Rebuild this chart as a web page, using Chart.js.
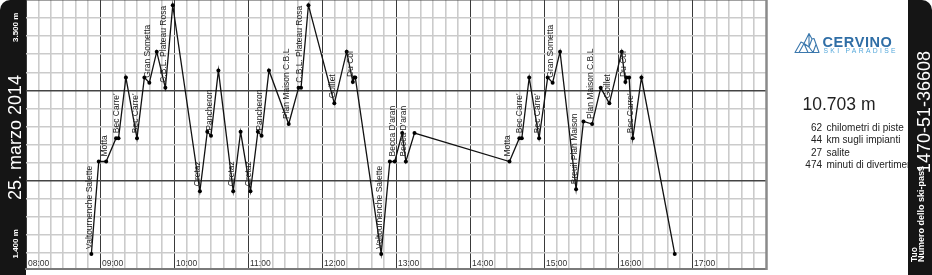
<!DOCTYPE html>
<html><head><meta charset="utf-8">
<script src="https://cdn.jsdelivr.net/npm/chart.js@4/dist/chart.umd.min.js"></script>
<style>html,body{margin:0;padding:0;background:#fff;overflow:hidden}#wrap{position:relative;width:932px;height:275px}</style>
</head><body><div id="wrap"><canvas id="c" width="932" height="275"></canvas></div>
<script>
// ---- data ----
const times = ["08:53","08:59","09:05","09:13","09:15","09:21","09:30","09:36","09:40","09:46","09:53","09:59",
  "10:21","10:27","10:30","10:36","10:48","10:54","11:02","11:08","11:11","11:17","11:33","11:41","11:43","11:49",
  "12:10","12:20","12:25","12:26","12:27","12:48","12:55","12:59","13:05","13:08","13:15",
  "14:32","14:40","14:42","14:48","14:56","15:03","15:07","15:13","15:26","15:32","15:39","15:46","15:53",
  "16:03","16:06","16:07","16:09","16:12","16:19","16:46"];
const elevations = [1535,2250,2250,2430,2430,2900,2430,2900,2860,3100,2820,3460,
  2020,2480,2450,2955,2020,2480,2020,2480,2450,2955,2540,2820,2820,3460,
  2700,3100,2865,2900,2900,1535,2250,2250,2470,2250,2470,
  2250,2430,2430,2900,2430,2900,2860,3100,2035,2560,2540,2820,2700,
  3100,2865,2900,2900,2430,2900,1535];
const liftNames = ["Valtournenche Salette","","Motta","","Bec Carre'","","Bec Carre'","","Gran Sometta","","C.B.L. Plateau Rosa","",
  "Cretaz","","Pancheron","","Cretaz","","Cretaz","","Pancheron","","Plan Maison C.B.L","","C.B.L. Plateau Rosa","",
  "Goillet","","Du Col","","","Valtournenche Salette","","Becca D'aran","","Becca D'aran","",
  "Motta","","Bec Carre'","","Bec Carre'","","Gran Sometta","","Breuil Plan Maison","","Plan Maison C.B.L","","Goillet",
  "","Du Col","","","Bec Carre'","",""];
const hourLabels = ["08:00","09:00","10:00","11:00","12:00","13:00","14:00","15:00","16:00","17:00"];
const dateLabel = "25. marzo 2014";
const elevMaxLabel = "3.500 m";
const elevMinLabel = "1.400 m";
const totalElevation = "10.703 m";
const statValues = ["62","44","27","474"];
const statTexts = ["chilometri di piste","km sugli impianti","salite","minuti di divertimento"];
const passTitle = ["Tuo","Numero dello ski-pass"];
const skipassNumber = "1470-51-36608";
const logoTitle = "CERVINO";
const logoSub = "SKI PARADISE";

const X_MIN = 8*60, X_MAX = 18*60, Y_MAX = 3500, Y_MIN = 1418, Y_STEP = 140;
const toMin = s => { const [h,m] = s.split(":").map(Number); return h*60+m; };
const points = times.map((t,i)=>({x: toMin(t), y: elevations[i]}));
const FONT = "'Liberation Sans', Arial, sans-serif";

const panelPlugin = {
  id:'panels',
  beforeDraw(chart){
    const ctx = chart.ctx;
    ctx.save();
    ctx.fillStyle = '#fff'; ctx.fillRect(0,0,chart.width,chart.height);
    ctx.fillStyle = '#151515';
    ctx.beginPath(); ctx.roundRect(0,0,26,275,[10,0,0,0]); ctx.fill();
    ctx.beginPath(); ctx.roundRect(908,0,24,275,[0,10,0,0]); ctx.fill();
    ctx.restore();
  },
  afterDatasetsDraw(chart){
    const ctx = chart.ctx, xs = chart.scales.x, area = chart.chartArea;
    ctx.save();
    ctx.strokeStyle = '#8a8a8a'; ctx.lineWidth = 2.5;
    ctx.beginPath(); ctx.moveTo(area.right+0.5, 0); ctx.lineTo(area.right+0.5, area.bottom+1); ctx.stroke();
    ctx.fillStyle = '#333'; ctx.font = '8.5px '+FONT; ctx.textBaseline='alphabetic'; ctx.textAlign='left';
    hourLabels.forEach((lab,i)=>{ ctx.fillText(lab, xs.getPixelForValue(toMin(lab))+2, area.bottom-3.5); });
    ctx.fillStyle = '#222'; ctx.font = '8.5px '+FONT;
    const meta = chart.getDatasetMeta(0);
    meta.data.forEach((pt,i)=>{
      const name = liftNames[i]; if(!name) return;
      ctx.save(); ctx.translate(pt.x+0.5, pt.y-5); ctx.rotate(-Math.PI/2); ctx.fillText(name,0,0); ctx.restore();
    });
    ctx.restore();
  },
  afterDraw(chart){
    const ctx = chart.ctx;
    ctx.save();
    const rot = (txt, x, y, font, color, align) => {
      ctx.save(); ctx.translate(x,y); ctx.rotate(-Math.PI/2);
      ctx.font = font; ctx.fillStyle = color; ctx.textAlign = align||'left'; ctx.textBaseline='alphabetic';
      ctx.fillText(txt,0,0); ctx.restore();
    };
    rot(dateLabel, 20.5, 137.5, '18px '+FONT, '#fff', 'center');
    rot(elevMaxLabel, 18, 42, 'bold 8px '+FONT, '#fff');
    rot(elevMinLabel, 18, 258.5, 'bold 8px '+FONT, '#fff');
    rot(passTitle[0], 917, 262, 'bold 8.5px '+FONT, '#fff');
    rot(passTitle[1], 924, 262, 'bold 9px '+FONT, '#fff');
    rot(skipassNumber, 930, 173, '18px '+FONT, '#fff');
    ctx.strokeStyle = '#3b78ad'; ctx.lineWidth = 1.1; ctx.lineJoin='round';
    ctx.beginPath();
    ctx.moveTo(795,52.5); ctx.lineTo(801,42); ctx.lineTo(804,43.5); ctx.lineTo(809,33.5); ctx.lineTo(812,39); ctx.lineTo(814,38.5); ctx.lineTo(819,52.5); ctx.closePath();
    ctx.moveTo(799,52.5); ctx.lineTo(804,43.5); ctx.lineTo(808,52.5);
    ctx.moveTo(804,43.5); ctx.lineTo(809,47); ctx.lineTo(812,39);
    ctx.moveTo(809,47); ctx.lineTo(813,52.5); ctx.lineTo(816,44.5);
    ctx.moveTo(809,33.5); ctx.lineTo(809,47);
    ctx.stroke();
    ctx.fillStyle = '#2f6ea6'; ctx.font = 'bold 14.5px '+FONT; ctx.textAlign='left';
    ctx.letterSpacing = '0.6px';
    ctx.fillText(logoTitle, 822.5, 46.8);
    ctx.fillStyle = '#53a7da'; ctx.font = '6.8px '+FONT; ctx.letterSpacing = '2.3px';
    ctx.fillText(logoSub, 823.5, 53);
    ctx.letterSpacing = '0px';
    ctx.fillStyle = '#222'; ctx.font = '17.5px '+FONT;
    ctx.fillText(totalElevation, 802.5, 109.5);
    ctx.save();
    ctx.beginPath(); ctx.rect(767,110,141,70); ctx.clip();
    ctx.font = '10px '+FONT;
    statValues.forEach((v,i)=>{
      const y = 130.7 + i*12.55;
      ctx.textAlign='right'; ctx.fillText(v, 822, y);
      ctx.textAlign='left'; ctx.fillText(statTexts[i], 826.5, y);
    });
    ctx.restore();
    ctx.restore();
  }
};

const isMajorX = v => v % 60 === 0;
const isMajorY = v => Math.round(Y_MAX - v) % 700 === 0;

new Chart(document.getElementById('c'), {
  type:'line',
  data:{ datasets:[{ data: points, borderColor:'#111', borderWidth:1.3, pointRadius:2, pointBackgroundColor:'#000', pointBorderWidth:0, tension:0, fill:false, clip:false }]},
  options:{
    responsive:false, animation:false, events:[],
    layout:{autoPadding:false, padding:{left:26,right:166,top:0,bottom:6}},
    plugins:{legend:{display:false}, tooltip:{enabled:false}},
    scales:{
      x:{ type:'linear', min:X_MIN, max:X_MAX,
        ticks:{display:false, stepSize:10, maxTicksLimit:1000},
        grid:{drawTicks:false, color: c => (c.tick && isMajorX(c.tick.value)) ? '#3a3a3a' : '#cbcbcb',
              lineWidth: c => (c.tick && isMajorX(c.tick.value)) ? 1 : 1.6},
        border:{display:true, color:'#7a7a7a', width:2} },
      y:{ type:'linear', min:Y_MIN, max:Y_MAX,
        afterBuildTicks: s => { const t=[]; for(let v=Y_MAX; v>=Y_MIN; v-=Y_STEP) t.push({value:v}); s.ticks = t; },
        ticks:{display:false},
        grid:{drawTicks:false, color: c => (c.tick && isMajorY(c.tick.value)) ? '#444' : '#cbcbcb',
              lineWidth: 1.6},
        border:{display:false} }
    }
  },
  plugins:[panelPlugin]
});
</script></body></html>
